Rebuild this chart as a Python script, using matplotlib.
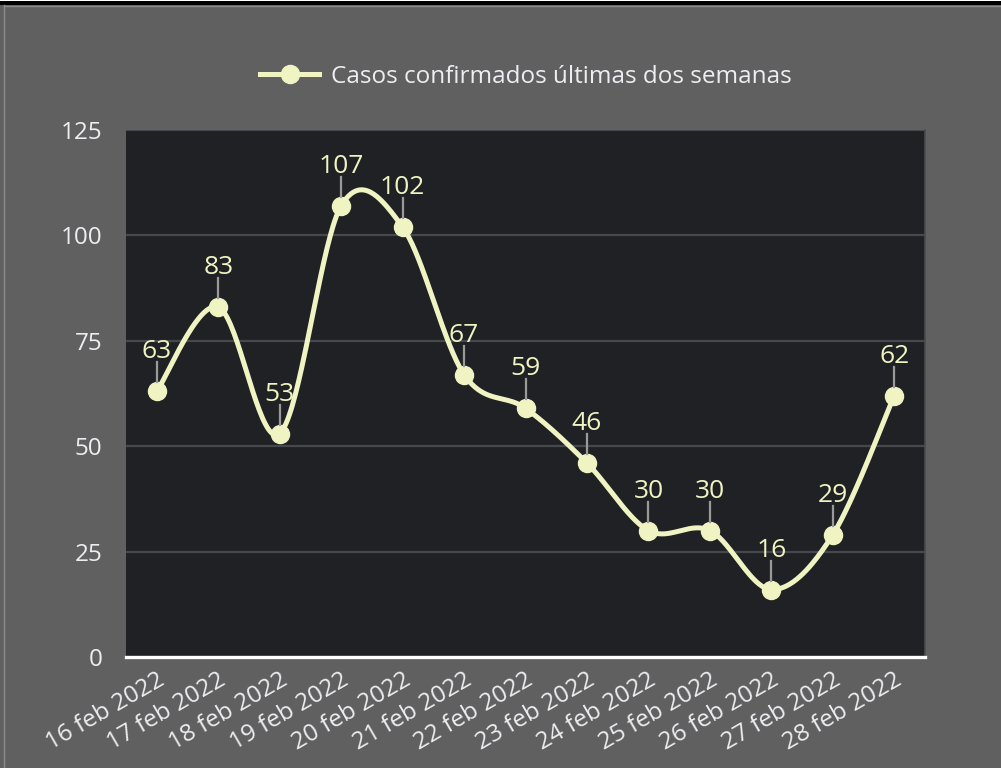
import matplotlib.pyplot as plt
from matplotlib.patches import Rectangle
from matplotlib.lines import Line2D
import numpy as np

plt.rcParams['font.family'] = ['Open Sans', 'DejaVu Sans']

fechas = ['16 feb 2022', '17 feb 2022', '18 feb 2022', '19 feb 2022', '20 feb 2022',
          '21 feb 2022', '22 feb 2022', '23 feb 2022', '24 feb 2022', '25 feb 2022',
          '26 feb 2022', '27 feb 2022', '28 feb 2022']
casos = [63, 83, 53, 107, 102, 67, 59, 46, 30, 30, 16, 29, 62]
serie = 'Casos confirmados últimas dos semanas'
y_ticks = [0, 25, 50, 75, 100, 125]

c_fondo = '#606060'
c_area = '#202124'
c_linea = '#f0f4c3'
c_texto = '#eeeef2'


def catmull_rom(xs, ys, n=40):
    # curva suave tipo spline entre los puntos (solo para el trazo)
    pts = np.column_stack([xs, ys]).astype(float)
    ext = np.vstack([pts[0], pts, pts[-1]])
    out = []
    for i in range(1, len(ext) - 2):
        p0, p1, p2, p3 = ext[i - 1], ext[i], ext[i + 1], ext[i + 2]
        c1 = p1 + (p2 - p0) / 6
        c2 = p2 - (p3 - p1) / 6
        t = np.linspace(0, 1, n)[:, None]
        seg = ((1 - t) ** 3) * p1 + 3 * ((1 - t) ** 2) * t * c1 + 3 * (1 - t) * t ** 2 * c2 + t ** 3 * p2
        out.append(seg if i == 1 else seg[1:])
    out = np.vstack(out)
    return out[:, 0], out[:, 1]


fig = plt.figure(figsize=(10.01, 7.68), dpi=100, facecolor=c_fondo)
ax = fig.add_axes([126 / 1001, 1 - 657 / 768, 799 / 1001, 527 / 768])
ax.set_facecolor(c_area)

x = np.arange(len(fechas))
sx, sy = catmull_rom(x, casos)
ax.plot(sx, sy, color=c_linea, lw=3.6, solid_capstyle='round', zorder=3)
ax.plot(x, casos, 'o', color=c_linea, ms=13, zorder=4)

for xi, v in zip(x, casos):
    ax.annotate(str(v), xy=(xi, v), xytext=(0, 33), textcoords='offset pixels',
                ha='center', va='baseline', color=c_linea, fontsize=19, zorder=5)

ax.set_xlim(-0.5, len(fechas) - 0.5)
ax.set_ylim(0, 125)
ax.set_yticks(y_ticks)
ax.set_xticks(x)
ax.set_xticklabels(fechas, rotation=30, ha='right', rotation_mode='anchor')
ax.tick_params(axis='both', length=0, colors=c_texto, labelsize=17.5)
ax.tick_params(axis='y', pad=17)
ax.tick_params(axis='x', pad=8)
ax.grid(axis='y', color='#46484c', lw=1.6)
ax.set_axisbelow(True)
for s in ['top', 'left']:
    ax.spines[s].set_visible(False)
ax.spines['right'].set_color('#4a4b4e')
ax.spines['right'].set_linewidth(1.2)
ax.spines['bottom'].set_color('white')
ax.spines['bottom'].set_linewidth(2.4)
ax.spines['bottom'].set_zorder(6)

# lineas guia grises entre etiqueta y punto
fig.canvas.draw()
for xi, v in zip(x, casos):
    px, py = ax.transData.transform((xi, v))
    fig.add_artist(Line2D([px / 1001, px / 1001], [(py + 9) / 768, (py + 29) / 768],
                          color='#9a9a9a', lw=1.6, zorder=2))

handle = Line2D([], [], color=c_linea, lw=3.6, marker='o', ms=13)
leg = fig.legend([handle], [serie], loc='center', bbox_to_anchor=(526 / 1001, 1 - 77 / 768),
                 frameon=False, fontsize=17.5, handlelength=2.4, handletextpad=0.5)
for t in leg.get_texts():
    t.set_color(c_texto)

# marco exterior
fig.add_artist(Rectangle((0, 1 - 5 / 768), 1, 4 / 768, transform=fig.transFigure,
                         facecolor='black', edgecolor='none'))
fig.add_artist(Rectangle((0, 1 - 1 / 768), 1, 1 / 768, transform=fig.transFigure,
                         facecolor='white', edgecolor='none'))
fig.add_artist(Line2D([3.5 / 1001, 3.5 / 1001], [0, 1 - 5 / 768], color='#8c8c8c', lw=1))
fig.add_artist(Line2D([3.5 / 1001, 1], [1 - 5.5 / 768, 1 - 5.5 / 768], color='#8c8c8c', lw=1))

fig.savefig('out.png', dpi=100, facecolor=c_fondo)
